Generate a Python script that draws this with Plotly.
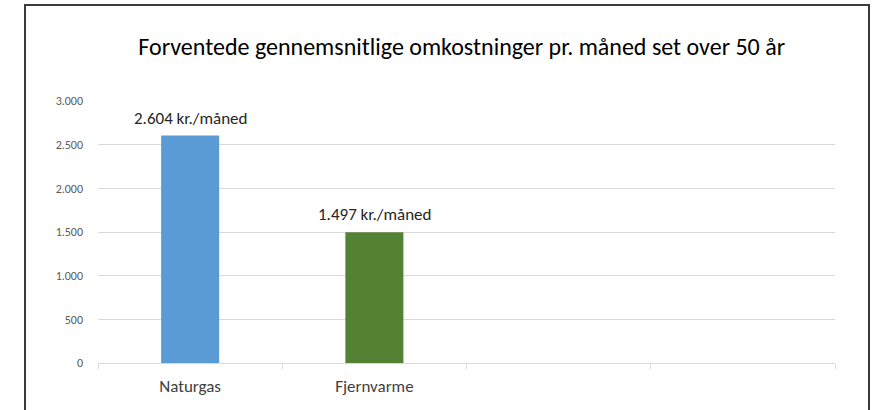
import plotly.graph_objects as go

categories = ["Naturgas", "Fjernvarme", " ", "  "]
values = [2604, 1497, None, None]
labels = ["2.604 kr./måned", "1.497 kr./måned", "", ""]
colors = ["#5B9BD5", "#548235", "#5B9BD5", "#5B9BD5"]
y_tickvals = [0, 500, 1000, 1500, 2000, 2500, 3000]
y_ticktext = ["0", "500", "1.000", "1.500", "2.000", "2.500", "3.000"]
title = "Forventede gennemsnitlige omkostninger pr. måned set over 50 år"

FONT = "Carlito, Lato, Liberation Sans, Arial, sans-serif"

fig = go.Figure(go.Bar(
    x=categories, y=values, width=0.315,
    marker=dict(color=colors, line=dict(width=0)),
    hoverinfo="x+y",
))

for c, v, t in zip(categories, values, labels):
    if v is not None and t:
        fig.add_annotation(x=c, y=v, text=t, showarrow=False, yanchor="bottom",
                           yshift=5, font=dict(family=FONT, size=17, color="#262626"))

W, H = 879, 410
L, R, T, B = 98, 44, 101, 47
pw, ph = W - L - R, H - T - B

def px2paper_x(px):
    return (px - L) / pw

def px2paper_y(py):
    return (H - B - py) / ph

fig.update_layout(
    width=W, height=H,
    margin=dict(l=L, r=R, t=T, b=B),
    paper_bgcolor="white", plot_bgcolor="white",
    showlegend=False,
    title=dict(text=title, x=px2paper_x(461.7), xref="paper", xanchor="center",
               y=1 - 47 / H, yref="container", yanchor="middle",
               font=dict(family=FONT, size=24, color="#000000")),
    xaxis=dict(
        type="category", categoryorder="array", categoryarray=categories,
        range=[-0.5, 3.5], tickson="boundaries", ticks="outside", ticklen=5,
        tickcolor="#d9d9d9", showline=True, linecolor="#d9d9d9", linewidth=1,
        showgrid=False, ticklabelstandoff=8,
        tickfont=dict(family=FONT, size=17, color="#404040"),
    ),
    yaxis=dict(
        range=[0, 3000], tickmode="array", tickvals=y_tickvals, ticktext=y_ticktext,
        showgrid=True, gridcolor="#d9d9d9", gridwidth=1, zeroline=False,
        showline=False, ticks="", ticklabelstandoff=14,
        tickfont=dict(family=FONT, size=12, color="#595959"),
    ),
    shapes=[dict(type="rect", xref="paper", yref="paper",
                 x0=px2paper_x(25), x1=px2paper_x(869),
                 y0=px2paper_y(440), y1=px2paper_y(5),
                 line=dict(color="#3a3a3a", width=2), fillcolor="rgba(0,0,0,0)",
                 layer="below")],
)

fig.write_html("out.html", config={"displayModeBar": False},
               post_script="document.body.style.margin='0';")
